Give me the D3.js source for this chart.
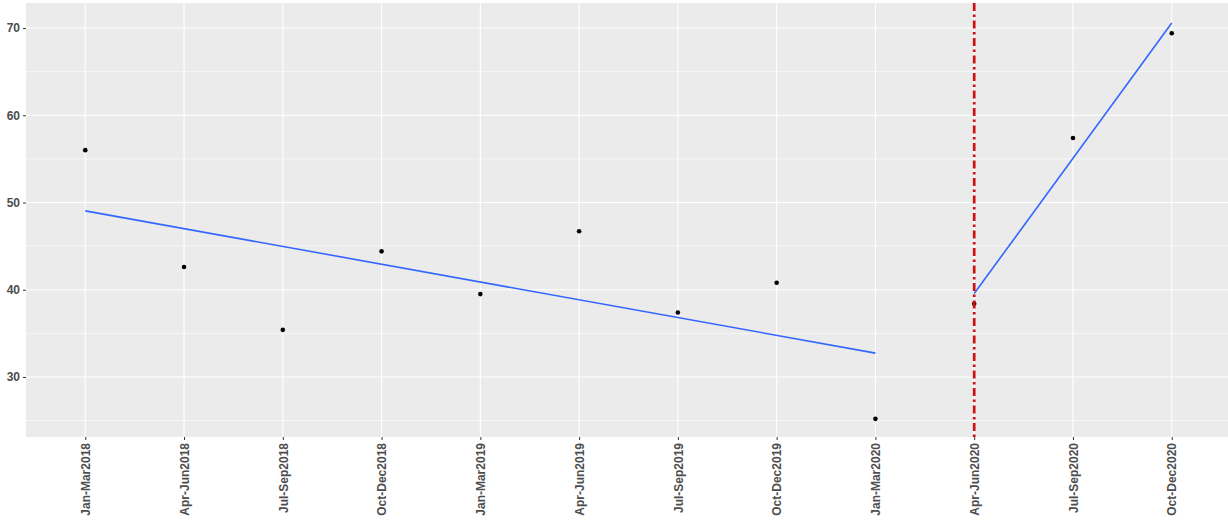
<!DOCTYPE html>
<html>
<head>
<meta charset="utf-8">
<script src="https://cdn.jsdelivr.net/npm/d3@7"></script>
<style>
  html, body { margin: 0; padding: 0; background: #ffffff; }
  svg { display: block; }
</style>
</head>
<body>
<script>
// ---- data ----
const categories = ["Jan-Mar2018","Apr-Jun2018","Jul-Sep2018","Oct-Dec2018",
                    "Jan-Mar2019","Apr-Jun2019","Jul-Sep2019","Oct-Dec2019",
                    "Jan-Mar2020","Apr-Jun2020","Jul-Sep2020","Oct-Dec2020"];
const values = [56.0, 42.6, 35.4, 44.4, 39.5, 46.7, 37.4, 40.8, 25.2, 38.4, 57.4, 69.4];
const yTicks = [30, 40, 50, 60, 70];
const yMinor = [25, 35, 45, 55, 65];
const breakCategory = "Apr-Jun2020";
const preCategories = categories.slice(0, 9);
const postCategories = categories.slice(9);

const W = 1228, H = 520;
const panel = { left: 26, top: 3, right: 1228, bottom: 437 };

const svg = d3.select("body").append("svg").attr("width", W).attr("height", H);

const x = d3.scalePoint().domain(categories).range([panel.left, 1231]).padding(0.6);
const y = d3.scaleLinear().domain([23.12, 72.87]).range([panel.bottom, panel.top]);

// panel background
svg.append("rect").attr("x", panel.left).attr("y", panel.top)
  .attr("width", panel.right - panel.left).attr("height", panel.bottom - panel.top)
  .attr("fill", "#EBEBEB");

const grid = svg.append("g");
grid.selectAll(".minor").data(yMinor).join("line")
  .attr("x1", panel.left).attr("x2", panel.right)
  .attr("y1", d => y(d)).attr("y2", d => y(d))
  .attr("stroke", "#ffffff").attr("stroke-width", 0.6);
grid.selectAll(".major").data(yTicks).join("line")
  .attr("x1", panel.left).attr("x2", panel.right)
  .attr("y1", d => y(d)).attr("y2", d => y(d))
  .attr("stroke", "#ffffff").attr("stroke-width", 1.1);
grid.selectAll(".vmajor").data(categories).join("line")
  .attr("x1", d => x(d)).attr("x2", d => x(d))
  .attr("y1", panel.top).attr("y2", panel.bottom)
  .attr("stroke", "#ffffff").attr("stroke-width", 1.1);

// linear fits
function fit(cats) {
  const xs = cats.map((c, i) => i);
  const ys = cats.map(c => values[categories.indexOf(c)]);
  const mx = d3.mean(xs), my = d3.mean(ys);
  const sxy = d3.sum(xs, (v, i) => (v - mx) * (ys[i] - my));
  const sxx = d3.sum(xs, v => (v - mx) * (v - mx));
  const b = sxy / sxx, a = my - b * mx;
  return cats.map((c, i) => ({ c, v: a + b * i }));
}
const line = d3.line().x(d => x(d.c)).y(d => y(d.v));
[preCategories, postCategories].forEach(cats => {
  const f = fit(cats);
  svg.append("path").datum([f[0], f[f.length - 1]])
    .attr("d", line).attr("fill", "none")
    .attr("stroke", "#3366FF").attr("stroke-width", 1.6);
});

// points
svg.append("g").selectAll("circle").data(categories).join("circle")
  .attr("cx", d => x(d)).attr("cy", (d, i) => y(values[i]))
  .attr("r", 2.3).attr("fill", "#000000");

// vertical break line
svg.append("line")
  .attr("x1", x(breakCategory)).attr("x2", x(breakCategory))
  .attr("y1", panel.top).attr("y2", panel.bottom)
  .attr("stroke", "#CC1111").attr("stroke-width", 2.7)
  .attr("stroke-dasharray", "8,3.5,2.5,3.5");

// axes
const xAxis = svg.append("g").attr("transform", `translate(0,${panel.bottom})`)
  .call(d3.axisBottom(x).tickSize(3).tickPadding(3));
xAxis.select(".domain").remove();
xAxis.selectAll(".tick line").attr("stroke", "#333333");
xAxis.selectAll(".tick text")
  .attr("transform", "rotate(-90)")
  .attr("x", -6).attr("y", 0).attr("dy", "0.35em")
  .attr("text-anchor", "end")
  .attr("fill", "#4D4D4D")
  .style("font-family", "'Liberation Sans', Arial, sans-serif")
  .style("font-size", "12px").style("font-weight", "bold");

const yAxis = svg.append("g").attr("transform", `translate(${panel.left},0)`)
  .call(d3.axisLeft(y).tickValues(yTicks).tickSize(3).tickPadding(3));
yAxis.select(".domain").remove();
yAxis.selectAll(".tick line").attr("stroke", "#333333");
yAxis.selectAll(".tick text")
  .attr("fill", "#4D4D4D")
  .style("font-family", "'Liberation Sans', Arial, sans-serif")
  .style("font-size", "12px").style("font-weight", "bold");
</script>
</body>
</html>
